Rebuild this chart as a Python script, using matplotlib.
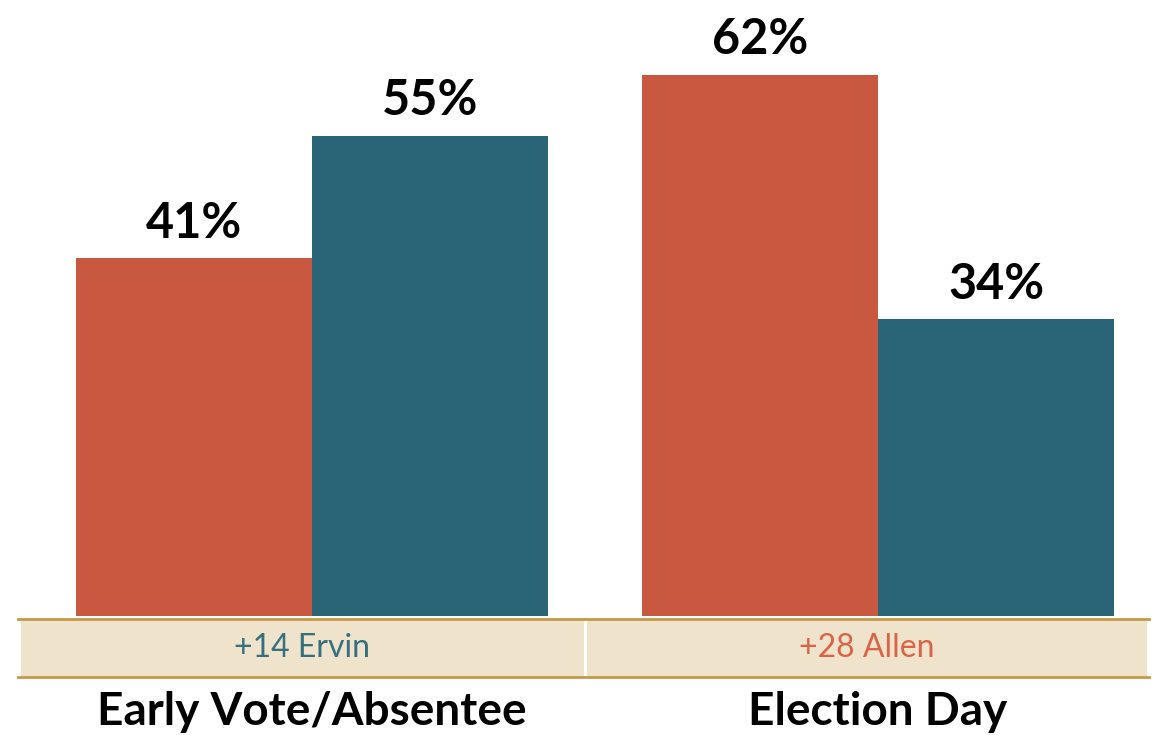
import matplotlib.pyplot as plt
from matplotlib.patches import Rectangle

groups = ["Early Vote/Absentee", "Election Day"]
allen = [41, 62]
ervin = [55, 34]
margins = ["+14 Ervin", "+28 Allen"]

red = "#C8583F"
blue = "#2A6577"
margin_colors = ["#35707F", "#DA6448"]

plt.rcParams['font.family'] = ['Lato', 'DejaVu Sans']

fig = plt.figure(figsize=(11.74, 7.35), dpi=100)
ax = fig.add_axes([0, 0, 1, 1])

w = 0.417
x = range(len(groups))
b1 = ax.bar([i - w / 2 for i in x], allen, w, color=red)
b2 = ax.bar([i + w / 2 for i in x], ervin, w, color=blue)

for bars in (b1, b2):
    for b in bars:
        ax.annotate(f"{b.get_height():.0f}%", (b.get_x() + b.get_width() / 2, b.get_height()),
                    xytext=(0, 9), textcoords="offset points", ha="center", va="bottom",
                    fontsize=35, fontweight="bold", color="black")

ax.set_xlim(-0.551, 1.523)
ax.set_ylim(-13.63, 70.56)
ax.axis("off")

# margin band under the bars (figure pixel coords)
tr = fig.transFigure
W, H = 1174, 735
band_top, band_bot = 619, 677
splits = [(21, 584), (587, 1147)]
for (x0, x1), txt, c in zip(splits, margins, margin_colors):
    ax.add_patch(Rectangle((x0 / W, 1 - band_bot / H), (x1 - x0) / W, (band_bot - band_top) / H,
                           transform=tr, facecolor="#EFE3CC", edgecolor="none", clip_on=False))
    fig.text((x0 + x1) / 2 / W, 1 - (band_top + band_bot) / 2 / H, txt, ha="center", va="center",
             fontsize=23, color=c)
for yy in (band_top, band_bot):
    ax.plot([18 / W, 1149 / W], [1 - yy / H, 1 - yy / H], transform=tr, color="#C4994A", lw=2,
            clip_on=False)

for i, g in enumerate(groups):
    ax.annotate(g, (i, 0), xytext=(0, -54), textcoords="offset points", ha="center", va="top",
                fontsize=33, fontweight="bold")

fig.savefig("out.png", dpi=100)
